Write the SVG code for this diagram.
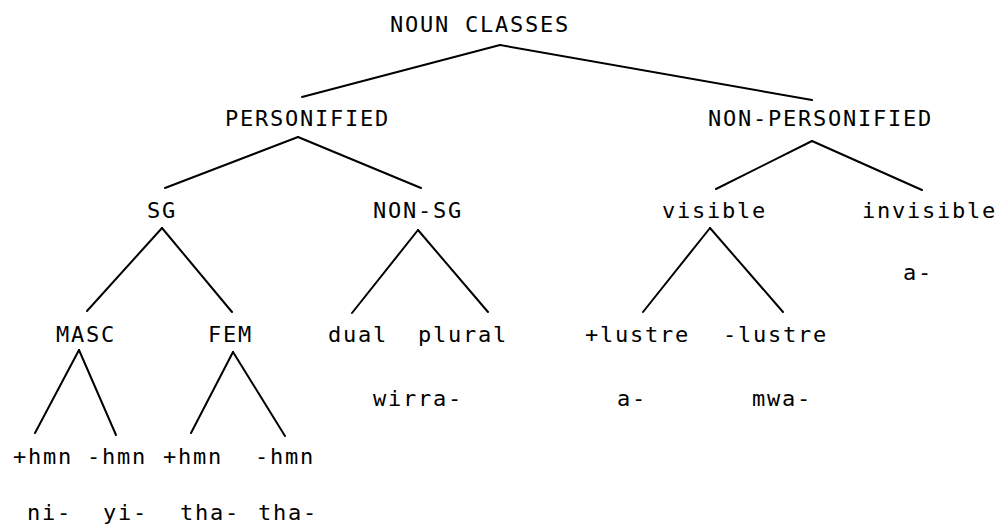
<svg xmlns="http://www.w3.org/2000/svg" width="997" height="528" viewBox="0 0 997 528">
  <style>
    text { font-family: "DejaVu Sans Mono", "Liberation Mono", monospace; font-size: 22px; letter-spacing: 1.76px; fill: #000; }
    .edge { stroke: #000; stroke-width: 2; stroke-linecap: round; fill: none; }
  </style>
  <rect width="997" height="528" fill="#fff"/>

  <!-- branches of the tree -->
  <g id="connectors">
    <line class="edge" x1="500" y1="45" x2="302" y2="97"/>
    <line class="edge" x1="500" y1="45" x2="812" y2="100"/>
    <line class="edge" x1="298" y1="137" x2="165" y2="188"/>
    <line class="edge" x1="298" y1="137" x2="421" y2="188"/>
    <line class="edge" x1="812" y1="141" x2="716" y2="189"/>
    <line class="edge" x1="812" y1="141" x2="922" y2="190"/>
    <line class="edge" x1="162" y1="228" x2="87" y2="311"/>
    <line class="edge" x1="162" y1="228" x2="232" y2="312"/>
    <line class="edge" x1="418" y1="230" x2="352" y2="313"/>
    <line class="edge" x1="418" y1="230" x2="488" y2="312"/>
    <line class="edge" x1="710" y1="228" x2="643" y2="312"/>
    <line class="edge" x1="710" y1="228" x2="783" y2="312"/>
    <line class="edge" x1="79" y1="350" x2="35" y2="433"/>
    <line class="edge" x1="79" y1="350" x2="116" y2="435"/>
    <line class="edge" x1="233" y1="352" x2="191" y2="433"/>
    <line class="edge" x1="233" y1="352" x2="285" y2="436"/>
  </g>

  <g id="noun-classes"><text x="390" y="32">NOUN CLASSES</text></g>
  <g id="personified"><text x="225" y="126">PERSONIFIED</text></g>
  <g id="non-personified"><text x="708" y="126">NON-PERSONIFIED</text></g>

  <g id="sg"><text x="147" y="218">SG</text></g>
  <g id="non-sg"><text x="373" y="218">NON-SG</text></g>
  <g id="visible"><text x="662" y="218">visible</text></g>
  <g id="invisible"><text x="862" y="218">invisible</text><text x="903" y="280">a-</text></g>

  <g id="masc"><text x="56" y="342">MASC</text></g>
  <g id="fem"><text x="208" y="342">FEM</text></g>
  <g id="dual"><text x="328" y="342">dual</text></g>
  <g id="plural"><text x="418" y="342">plural</text></g>
  <g id="non-sg-prefix"><text x="373" y="406">wirra-</text></g>
  <g id="plus-lustre"><text x="585" y="342">+lustre</text><text x="617" y="406">a-</text></g>
  <g id="minus-lustre"><text x="723" y="342">-lustre</text><text x="752" y="406">mwa-</text></g>

  <g id="masc-plus-hmn"><text x="13" y="464">+hmn</text><text x="27" y="520">ni-</text></g>
  <g id="masc-minus-hmn"><text x="87" y="464">-hmn</text><text x="103" y="520">yi-</text></g>
  <g id="fem-plus-hmn"><text x="163" y="464">+hmn</text><text x="180" y="520">tha-</text></g>
  <g id="fem-minus-hmn"><text x="255" y="464">-hmn</text><text x="258" y="520">tha-</text></g>
</svg>
